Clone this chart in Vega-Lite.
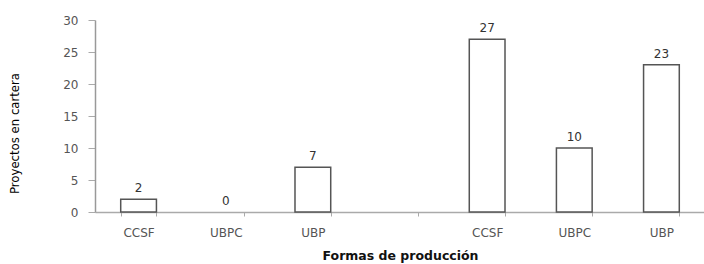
{
  "$schema": "https://vega.github.io/schema/vega-lite/v6.json",
  "width": 610,
  "height": 192,
  "autosize": {"type": "none"},
  "padding": {"left": 95, "top": 20, "right": 0, "bottom": 52},
  "background": "white",
  "config": {"view": {"stroke": null}},
  "data": {
    "values": [
      {"key": "a-CCSF", "proyectos": 2},
      {"key": "a-UBPC", "proyectos": 0},
      {"key": "a-UBP", "proyectos": 7},
      {"key": "b-CCSF", "proyectos": 27},
      {"key": "b-UBPC", "proyectos": 10},
      {"key": "b-UBP", "proyectos": 23}
    ]
  },
  "encoding": {
    "x": {
      "field": "key",
      "type": "nominal",
      "sort": null,
      "scale": {
        "domain": ["a-CCSF", "a-UBPC", "a-UBP", "gap", "b-CCSF", "b-UBPC", "b-UBP"],
        "paddingInner": 0.59,
        "paddingOuter": 0.295
      },
      "axis": {
        "title": "Formas de producción",
        "titleFont": "DejaVu Sans",
        "titleFontSize": 12.5,
        "titleFontWeight": "bold",
        "titleColor": "#111",
        "titlePadding": 11,
        "labelExpr": "datum.value == 'gap' ? '' : split(datum.value, '-')[1]",
        "labelAngle": 0,
        "labelFont": "DejaVu Sans",
        "labelFontSize": 12,
        "labelColor": "#555",
        "labelPadding": 11,
        "tickBand": "extent",
        "tickSize": 4,
        "tickColor": "#aaa",
        "domainColor": "#aaa",
        "domainWidth": 1.5
      }
    },
    "y": {
      "field": "proyectos",
      "type": "quantitative",
      "scale": {"domain": [0, 30], "nice": false},
      "axis": {
        "title": "Proyectos en cartera",
        "titleFont": "DejaVu Sans Condensed, Liberation Sans Narrow, Liberation Sans",
        "titleFontSize": 13,
        "titleFontWeight": "normal",
        "titleColor": "#000",
        "titleX": -74,
        "titleY": 113,
        "values": [0, 5, 10, 15, 20, 25, 30],
        "grid": false,
        "labelFont": "DejaVu Sans",
        "labelFontSize": 12,
        "labelColor": "#555",
        "labelPadding": 10,
        "tickSize": 7,
        "tickColor": "#aaa",
        "domainColor": "#999",
        "domainWidth": 1.5
      }
    }
  },
  "layer": [
    {
      "mark": {"type": "bar", "fill": "white", "stroke": "#555", "strokeWidth": 1.5},
      "encoding": {
        "strokeOpacity": {"condition": {"test": "datum.proyectos == 0", "value": 0}, "value": 1}
      }
    },
    {
      "mark": {"type": "text", "dy": -11, "font": "DejaVu Sans", "fontSize": 12, "color": "#333"},
      "encoding": {"text": {"field": "proyectos", "type": "quantitative"}}
    }
  ]
}
